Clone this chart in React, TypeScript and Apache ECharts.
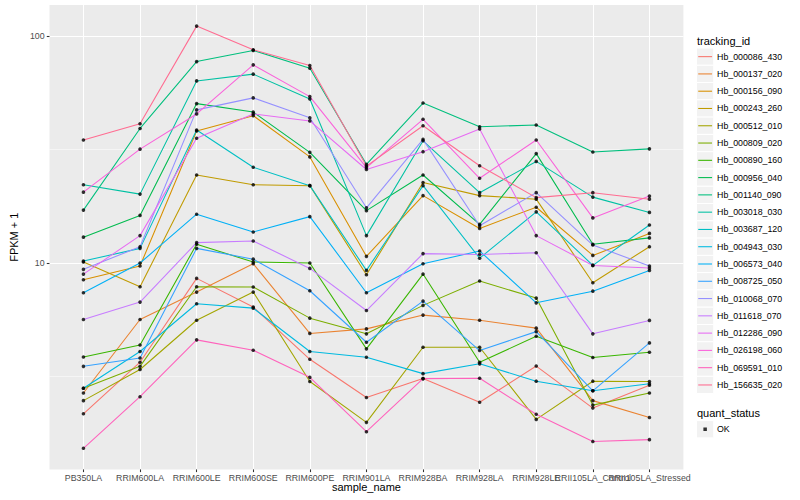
import React, { useEffect, useRef } from "react";
import * as echarts from "echarts";

const FONT = "'Liberation Sans', Arial, Helvetica, sans-serif";

const categories = [
  "PB350LA", "RRIM600LA", "RRIM600LE", "RRIM600SE", "RRIM600PE", "RRIM901LA",
  "RRIM928BA", "RRIM928LA", "RRIM928LE", "RRII105LA_Control", "RRII105LA_Stressed",
];

const trackingIds = [
  "Hb_000086_430", "Hb_000137_020", "Hb_000156_090", "Hb_000243_260", "Hb_000512_010",
  "Hb_000809_020", "Hb_000890_160", "Hb_000956_040", "Hb_001140_090", "Hb_003018_030",
  "Hb_003687_120", "Hb_004943_030", "Hb_006573_040", "Hb_008725_050", "Hb_010068_070",
  "Hb_011618_070", "Hb_012286_090", "Hb_026198_060", "Hb_069591_010", "Hb_156635_020",
];

// FPKM + 1 per sample, in category order
const Hb_000086_430 = [2.17, 3.66, 8.56, 6.40, 3.77, 2.56, 3.10, 2.44, 3.52, 2.30, 2.90];
const Hb_000137_020 = [2.68, 5.64, 7.45, 9.93, 4.90, 5.13, 5.90, 5.60, 5.17, 2.48, 2.09];
const Hb_000156_090 = [8.44, 9.70, 38.1, 44.5, 29.3, 10.7, 19.8, 14.2, 17.6, 10.8, 13.5];
const Hb_000243_260 = [10.1, 7.86, 24.4, 22.1, 21.9, 8.88, 22.6, 19.8, 19.1, 8.19, 11.8];
const Hb_000512_010 = [2.48, 3.40, 5.60, 7.45, 3.01, 1.99, 4.26, 4.26, 2.05, 3.02, 3.01];
const Hb_000809_020 = [2.81, 3.51, 7.86, 7.84, 5.72, 4.88, 6.51, 8.33, 7.01, 2.37, 2.68];
const Hb_000890_160 = [3.86, 4.36, 12.1, 10.1, 10.0, 4.19, 8.94, 3.66, 4.76, 3.84, 4.05];
const Hb_000956_040 = [13.0, 16.2, 50.3, 46.2, 30.7, 17.0, 24.4, 14.8, 30.3, 12.1, 12.9];
const Hb_001140_090 = [17.1, 39.1, 77.0, 86.2, 72.0, 27.2, 50.6, 39.8, 40.5, 30.8, 31.8];
const Hb_003018_030 = [22.1, 20.1, 63.3, 67.8, 52.7, 13.2, 34.5, 20.4, 28.0, 19.5, 16.7];
const Hb_003687_120 = [10.2, 11.6, 38.5, 26.4, 21.9, 9.28, 21.9, 10.5, 16.8, 9.77, 14.7];
const Hb_004943_030 = [2.81, 4.08, 6.62, 6.33, 4.08, 3.85, 3.26, 3.60, 3.02, 2.74, 2.94];
const Hb_006573_040 = [7.40, 10.0, 16.4, 13.7, 16.0, 7.40, 9.93, 11.3, 6.68, 7.52, 9.28];
const Hb_008725_050 = [3.51, 3.82, 11.6, 10.4, 7.55, 4.48, 6.80, 4.12, 4.99, 2.74, 4.45];
const Hb_010068_070 = [9.38, 11.8, 47.2, 53.3, 43.6, 17.5, 35.0, 14.6, 20.4, 12.0, 9.70];
const Hb_011618_070 = [5.64, 6.73, 12.3, 12.5, 9.47, 6.18, 11.0, 10.9, 11.1, 4.88, 5.59];
const Hb_012286_090 = [8.94, 13.2, 35.4, 45.3, 42.2, 25.8, 30.9, 38.9, 13.2, 9.76, 9.50];
const Hb_026198_060 = [20.5, 31.7, 45.3, 74.5, 54.0, 26.3, 42.9, 23.6, 34.8, 15.8, 19.7];
const Hb_069591_010 = [1.53, 2.58, 4.59, 4.13, 3.14, 1.81, 3.10, 3.11, 2.16, 1.64, 1.67];
const Hb_156635_020 = [34.8, 41.0, 110.3, 86.8, 74.0, 26.7, 40.2, 26.8, 19.4, 20.4, 19.1];

const seriesValues = [
  Hb_000086_430, Hb_000137_020, Hb_000156_090, Hb_000243_260, Hb_000512_010,
  Hb_000809_020, Hb_000890_160, Hb_000956_040, Hb_001140_090, Hb_003018_030,
  Hb_003687_120, Hb_004943_030, Hb_006573_040, Hb_008725_050, Hb_010068_070,
  Hb_011618_070, Hb_012286_090, Hb_026198_060, Hb_069591_010, Hb_156635_020,
];

const palette = [
  "#F8766D", "#EA8331", "#D89000", "#C09B00", "#A3A500", "#7CAE00", "#39B600",
  "#00BB4E", "#00BF7D", "#00C1A3", "#00BFC4", "#00BAE0", "#00B0F6", "#35A2FF",
  "#9590FF", "#C77CFF", "#E76BF3", "#FA62DB", "#FF62BC", "#FF6C91",
];

const yMajorLog = [1, 2];
const yMinorLog = [0.5, 1.5];
const statusLabels = ["OK"];

export default function App() {
  const ref = useRef<HTMLDivElement>(null);

  useEffect(() => {
    if (!ref.current) return;
    const chart = echarts.init(ref.current, undefined, { renderer: "svg" });

    const allLog = seriesValues.flat().map((v) => Math.log10(v));
    const lo = Math.min(...allLog);
    const hi = Math.max(...allLog);
    const pad = (hi - lo) * 0.05;
    const xTicks = categories.map((_, i) => i + 1);
    const xOdd = xTicks.filter((t) => t % 2 === 1);
    const xEven = xTicks.filter((t) => t % 2 === 0);

    const lineSeries = trackingIds.map((id, i) => ({
      type: "line",
      name: id,
      xAxisIndex: 0,
      yAxisIndex: 0,
      data: seriesValues[i].map((v, j) => [j + 1, Math.log10(v)]),
      symbol: "none",
      lineStyle: { color: palette[i], width: 1.07 },
      itemStyle: { color: palette[i] },
      z: 2,
      silent: true,
    }));

    const points: number[][] = [];
    seriesValues.forEach((arr) => arr.forEach((v, j) => points.push([j + 1, Math.log10(v)])));

    const keyPitch = 17.28;
    const keyTop = 48;
    const keyLeft = 696.5;
    const keyRects = trackingIds.map((_, i) => ({
      type: "rect",
      shape: { x: keyLeft, y: keyTop + i * keyPitch, width: keyPitch, height: keyPitch },
      style: { fill: "#F2F2F2", stroke: "#FFFFFF", lineWidth: 1 },
      z: 0,
      silent: true,
    }));
    const statusTop = keyTop + trackingIds.length * keyPitch + 11 + 16;

    const xLabelStyle = {
      showMinLabel: true,
      showMaxLabel: true,
      hideOverlap: false,
      formatter: (v: number) => categories[Math.round(v) - 1] ?? "",
      color: "#4D4D4D", fontSize: 8.8, margin: 4, fontFamily: FONT,
    };

    chart.setOption({
      animation: false,
      backgroundColor: "#FFFFFF",
      textStyle: { fontFamily: FONT },
      grid: {
        left: 40, right: 116.6, top: 5, bottom: 30.6,
        show: true, backgroundColor: "#EBEBEB", borderWidth: 0,
      },
      xAxis: [
        {
          type: "value",
          position: "bottom",
          min: 0.4,
          max: 11.6,
          axisLine: { show: false },
          axisTick: {
            show: true, customValues: xTicks, length: 2.7,
            lineStyle: { color: "#333333", width: 1.07 },
          },
          axisLabel: { ...xLabelStyle, customValues: xOdd },
          splitLine: { show: true, lineStyle: { color: "#FFFFFF", width: 1.07 } },
          name: "sample_name",
          nameLocation: "middle",
          nameGap: 12.5,
          nameMoveOverlap: false,
          nameTextStyle: { color: "#000000", fontSize: 11, fontFamily: FONT },
        },
        {
          type: "value",
          position: "bottom",
          offset: 0,
          min: 0.4,
          max: 11.6,
          axisLine: { show: false },
          axisTick: { show: false, customValues: xEven },
          axisLabel: { ...xLabelStyle, customValues: xEven },
          splitLine: { show: false },
        },
      ],
      yAxis: [
        {
          type: "value",
          min: lo - pad,
          max: hi + pad,
          axisLine: { show: false },
          axisTick: {
            show: true, customValues: yMajorLog, length: 2.7,
            lineStyle: { color: "#333333", width: 1.07 },
          },
          axisLabel: {
            customValues: yMajorLog,
            formatter: (v: number) => String(Math.round(Math.pow(10, v))),
            color: "#4D4D4D", fontSize: 8.8, margin: 4.9, fontFamily: FONT,
          },
          splitLine: { show: true, lineStyle: { color: "#FFFFFF", width: 1.07 } },
          name: "FPKM + 1",
          nameLocation: "middle",
          nameRotate: 90,
          nameGap: 22,
          nameTextStyle: { color: "#000000", fontSize: 11, fontFamily: FONT },
        },
        {
          type: "value",
          position: "left",
          min: lo - pad,
          max: hi + pad,
          axisLine: { show: false },
          axisTick: { show: false, customValues: yMinorLog },
          axisLabel: { show: false },
          splitLine: { show: true, lineStyle: { color: "#FFFFFF", width: 0.53 } },
        },
      ],
      legend: [
        {
          data: trackingIds.map((id) => ({ name: id, icon: "rect" })),
          orient: "vertical",
          left: keyLeft + keyPitch * 0.1,
          top: keyTop,
          itemWidth: keyPitch * 0.8,
          itemHeight: 1.07,
          itemGap: 0,
          padding: 0,
          selectedMode: false,
          textStyle: { fontSize: 8.8, lineHeight: keyPitch, color: "#000000", fontFamily: FONT },
        },
        {
          data: statusLabels.map((s) => ({ name: s, icon: "rect" })),
          orient: "vertical",
          left: keyLeft + keyPitch / 2 - 1.75,
          top: statusTop,
          itemWidth: 3.5,
          itemHeight: 3.5,
          itemGap: 0,
          padding: 0,
          selectedMode: false,
          textStyle: {
            fontSize: 8.8, lineHeight: keyPitch, color: "#000000", fontFamily: FONT,
            padding: [0, 0, 0, 5],
          },
        },
      ],
      graphic: [
        ...keyRects,
        {
          type: "rect",
          shape: { x: keyLeft, y: statusTop, width: keyPitch, height: keyPitch },
          style: { fill: "#F2F2F2", stroke: "#FFFFFF", lineWidth: 1 },
          z: 0,
          silent: true,
        },
        {
          type: "text",
          x: 697, y: keyTop - 7.5,
          style: { text: "tracking_id", fontSize: 11, fontFamily: FONT, fill: "#000000", verticalAlign: "middle" },
        },
        {
          type: "text",
          x: 697, y: statusTop - 7.5,
          style: { text: "quant_status", fontSize: 11, fontFamily: FONT, fill: "#000000", verticalAlign: "middle" },
        },
      ],
      series: [
        ...lineSeries,
        {
          type: "scatter",
          name: "OK",
          xAxisIndex: 0,
          yAxisIndex: 0,
          data: points,
          symbol: "circle",
          symbolSize: 3.6,
          itemStyle: { color: "#000000" },
          z: 3,
          silent: true,
        },
      ],
    });

    return () => chart.dispose();
  }, []);

  return (
    <div
      ref={ref}
      style={{ position: "absolute", left: 0, top: 0, width: 800, height: 500 }}
    />
  );
}
